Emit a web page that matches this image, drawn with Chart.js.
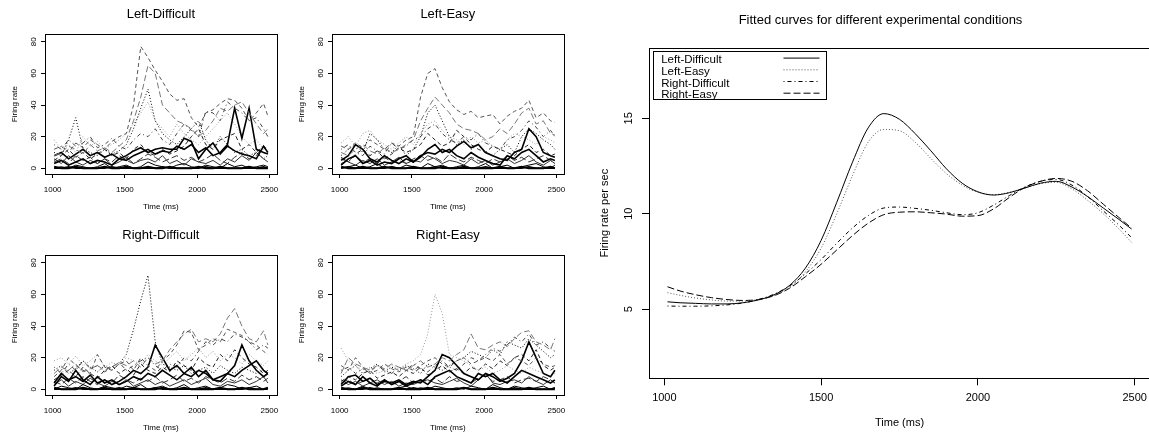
<!DOCTYPE html>
<html>
<head>
<meta charset="utf-8">
<title>Firing rate by condition</title>
<script src="https://cdn.jsdelivr.net/npm/chart.js"></script>
<style>
    html, body { margin: 0; padding: 0; background: #fff; overflow: hidden; }
    body { width: 1149px; height: 434px; position: relative; }
    canvas { position: absolute; }
</style>
</head>
<body>
<canvas id="p1" width="287" height="213" style="left:0px;top:0px"></canvas>
<canvas id="p2" width="287" height="213" style="left:287px;top:0px"></canvas>
<canvas id="p3" width="287" height="213" style="left:0px;top:221px"></canvas>
<canvas id="p4" width="287" height="213" style="left:287px;top:221px"></canvas>
<canvas id="fit" width="585" height="434" style="left:575px;top:0px"></canvas>

<script>
// time bins of the single trials (ms)
const trialTimes = [1010, 1060, 1110, 1160, 1210, 1260, 1310, 1360, 1410, 1460,
    1510, 1560, 1610, 1660, 1710, 1760, 1810, 1860, 1910, 1960,
    2010, 2060, 2110, 2160, 2210, 2260, 2310, 2360, 2410, 2460, 2490];

const smallXTicks = [1000, 1500, 2000, 2500];
const smallYTicks = [0, 20, 40, 60, 80];

// trial firing rates, one row per trial
const leftDifficult = [
    [12, 14, 10, 16, 13, 18, 15, 12, 17, 20, 22, 40, 77, 70, 62, 55, 47, 43, 44, 32, 26, 35, 37, 41, 44, 43, 38, 30, 35, 41, 33],
    [8, 10, 14, 12, 9, 15, 11, 13, 10, 14, 18, 30, 45, 65, 60, 40, 35, 30, 28, 25, 20, 24, 30, 38, 36, 40, 42, 35, 28, 22, 25],
    [10, 8, 18, 32, 12, 10, 8, 12, 9, 11, 15, 25, 38, 50, 30, 22, 18, 15, 20, 25, 30, 18, 12, 20, 15, 10, 12, 8, 10, 6, 8],
    [3, 5, 2, 4, 6, 3, 5, 4, 2, 6, 5, 8, 10, 12, 9, 11, 10, 14, 12, 15, 10, 13, 8, 10, 15, 38, 19, 38, 12, 10, 9],
    [8, 10, 6, 9, 12, 8, 10, 7, 9, 6, 8, 11, 13, 10, 12, 13, 12, 12, 19, 17, 6, 12, 16, 9, 14, 11, 9, 8, 6, 14, 10],
    [0, 1, 0, 2, 1, 0, 1, 3, 0, 1, 2, 0, 1, 4, 2, 1, 0, 2, 3, 1, 0, 2, 1, 0, 3, 1, 2, 0, 1, 2, 1],
    [1, 0, 0, 1, 0, 0, 0, 1, 0, 0, 1, 0, 0, 1, 0, 0, 1, 0, 0, 0, 1, 0, 0, 1, 0, 0, 0, 1, 0, 0, 0],
    [18, 12, 15, 10, 20, 14, 17, 12, 15, 18, 22, 28, 35, 42, 30, 25, 20, 28, 22, 18, 15, 20, 25, 30, 35, 28, 20, 15, 18, 12, 14],
    [5, 8, 12, 7, 10, 6, 9, 12, 8, 10, 6, 12, 15, 10, 8, 12, 9, 11, 14, 20, 25, 15, 12, 18, 20, 22, 12, 15, 10, 14, 12],
    [15, 12, 18, 14, 16, 20, 13, 15, 19, 14, 12, 18, 22, 20, 25, 18, 15, 22, 28, 24, 20, 36, 35, 30, 42, 38, 35, 30, 32, 25, 20],
    [4, 6, 3, 8, 5, 7, 3, 6, 4, 8, 5, 3, 6, 9, 7, 4, 6, 8, 5, 7, 4, 6, 9, 5, 3, 7, 10, 6, 8, 14, 9],
    [6, 3, 8, 4, 2, 5, 3, 6, 2, 4, 7, 3, 5, 6, 4, 8, 3, 5, 2, 6, 4, 3, 5, 2, 6, 4, 8, 5, 10, 6, 4],
    [0, 0, 1, 0, 0, 0, 0, 0, 1, 0, 0, 0, 0, 0, 0, 1, 0, 0, 0, 0, 0, 1, 0, 0, 0, 0, 0, 0, 0, 1, 0]
];

const leftEasy = [
    [14, 12, 16, 13, 18, 15, 12, 16, 14, 18, 20, 45, 60, 63, 51, 42, 37, 34, 36, 32, 33, 34, 28, 33, 36, 38, 43, 32, 35, 30, 29],
    [10, 8, 12, 15, 11, 9, 13, 10, 12, 15, 18, 30, 38, 45, 40, 35, 28, 25, 24, 22, 18, 20, 25, 22, 28, 35, 38, 28, 30, 22, 21],
    [8, 12, 15, 10, 22, 18, 12, 10, 15, 8, 12, 20, 35, 40, 30, 20, 15, 18, 12, 15, 10, 8, 12, 15, 10, 20, 25, 22, 18, 15, 12],
    [5, 8, 15, 12, 6, 4, 8, 5, 3, 6, 4, 8, 10, 9, 12, 10, 14, 17, 13, 15, 10, 8, 6, 5, 10, 12, 25, 20, 10, 8, 7],
    [2, 6, 8, 3, 5, 2, 4, 3, 6, 8, 4, 7, 12, 15, 10, 12, 8, 6, 10, 7, 5, 3, 2, 8, 6, 10, 12, 8, 4, 6, 5],
    [0, 1, 2, 0, 1, 3, 0, 1, 0, 2, 1, 0, 3, 1, 2, 0, 1, 2, 0, 1, 3, 0, 1, 2, 0, 1, 2, 3, 1, 0, 2],
    [1, 0, 0, 1, 0, 0, 1, 0, 0, 0, 1, 0, 0, 0, 1, 0, 0, 1, 0, 0, 0, 0, 1, 0, 0, 1, 0, 0, 0, 1, 0],
    [16, 20, 14, 22, 24, 18, 15, 12, 16, 20, 15, 22, 28, 30, 24, 20, 18, 15, 20, 16, 18, 14, 12, 18, 22, 20, 18, 15, 20, 18, 16],
    [6, 4, 9, 12, 8, 11, 6, 9, 13, 10, 12, 15, 22, 18, 14, 16, 24, 20, 15, 12, 10, 14, 12, 10, 8, 12, 15, 10, 12, 8, 9],
    [12, 15, 10, 8, 14, 11, 9, 16, 12, 14, 18, 20, 25, 28, 22, 18, 16, 20, 18, 22, 16, 14, 12, 18, 20, 24, 30, 26, 20, 24, 20],
    [3, 5, 8, 4, 6, 3, 7, 4, 5, 3, 6, 8, 5, 7, 4, 9, 6, 4, 7, 5, 3, 6, 4, 8, 5, 7, 4, 6, 8, 5, 3],
    [7, 4, 2, 5, 3, 6, 2, 4, 7, 3, 5, 4, 8, 6, 3, 5, 4, 2, 6, 3, 5, 2, 4, 6, 3, 5, 8, 4, 2, 5, 3],
    [0, 1, 0, 0, 0, 0, 0, 1, 0, 0, 0, 0, 0, 1, 0, 0, 0, 0, 0, 0, 1, 0, 0, 0, 0, 0, 1, 0, 0, 0, 0]
];

const rightDifficult = [
    [8, 12, 20, 15, 12, 10, 22, 14, 12, 16, 18, 12, 20, 15, 12, 18, 22, 28, 37, 36, 25, 28, 32, 30, 38, 36, 34, 30, 28, 24, 22],
    [10, 14, 12, 16, 11, 13, 15, 12, 14, 17, 15, 18, 14, 20, 16, 18, 25, 30, 35, 38, 30, 32, 30, 35, 45, 51, 40, 32, 30, 37, 28],
    [12, 15, 10, 13, 18, 14, 11, 15, 12, 16, 22, 38, 56, 72, 30, 16, 14, 12, 15, 10, 12, 14, 10, 15, 12, 10, 14, 12, 10, 12, 9],
    [4, 10, 6, 8, 5, 9, 4, 6, 3, 5, 8, 12, 10, 14, 28, 20, 12, 15, 10, 8, 12, 10, 6, 8, 10, 15, 28, 18, 12, 8, 10],
    [2, 8, 5, 12, 6, 3, 8, 4, 6, 3, 5, 8, 6, 10, 8, 12, 9, 6, 10, 14, 8, 12, 6, 5, 10, 8, 12, 15, 18, 12, 10],
    [0, 2, 1, 0, 3, 1, 0, 2, 1, 0, 2, 1, 3, 0, 1, 2, 0, 1, 3, 0, 1, 2, 0, 1, 3, 2, 0, 1, 2, 0, 1],
    [1, 0, 0, 0, 1, 0, 0, 1, 0, 0, 0, 1, 0, 0, 0, 1, 0, 0, 1, 0, 0, 0, 0, 1, 0, 0, 1, 0, 0, 0, 1],
    [18, 20, 16, 21, 15, 18, 22, 14, 17, 15, 20, 18, 16, 22, 18, 15, 20, 24, 18, 22, 26, 20, 24, 18, 22, 20, 16, 22, 18, 15, 18],
    [6, 9, 12, 8, 14, 10, 7, 12, 15, 10, 13, 9, 16, 12, 10, 14, 11, 18, 15, 12, 20, 16, 14, 22, 18, 25, 20, 16, 14, 10, 12],
    [14, 10, 16, 12, 18, 13, 15, 11, 14, 17, 12, 15, 18, 20, 15, 12, 16, 14, 20, 18, 24, 30, 28, 32, 30, 35, 33, 30, 25, 28, 26],
    [5, 3, 7, 4, 8, 5, 3, 6, 4, 9, 6, 4, 7, 5, 8, 4, 6, 9, 5, 7, 4, 8, 6, 4, 7, 5, 9, 6, 8, 5, 7],
    [3, 6, 2, 5, 3, 7, 4, 2, 5, 3, 6, 2, 4, 6, 3, 5, 2, 4, 6, 3, 5, 7, 3, 2, 5, 4, 6, 3, 5, 8, 4],
    [0, 0, 0, 1, 0, 0, 0, 0, 0, 1, 0, 0, 0, 0, 1, 0, 0, 0, 0, 0, 0, 1, 0, 0, 0, 0, 0, 1, 0, 0, 0]
];

const rightEasy = [
    [15, 12, 20, 14, 10, 12, 16, 13, 11, 14, 12, 15, 18, 20, 16, 14, 18, 20, 16, 18, 20, 18, 22, 16, 20, 18, 15, 20, 16, 14, 15],
    [10, 20, 16, 14, 12, 15, 13, 16, 14, 12, 15, 18, 14, 16, 20, 18, 22, 25, 35, 26, 25, 28, 30, 27, 32, 36, 37, 30, 28, 25, 32],
    [8, 12, 15, 10, 13, 16, 11, 14, 12, 15, 13, 10, 16, 14, 12, 15, 18, 20, 24, 22, 20, 25, 22, 30, 28, 26, 32, 28, 24, 20, 22],
    [3, 8, 9, 5, 7, 3, 5, 4, 6, 3, 5, 4, 8, 12, 22, 20, 15, 10, 8, 6, 10, 8, 5, 7, 10, 18, 30, 20, 10, 8, 12],
    [2, 5, 3, 8, 4, 2, 6, 3, 5, 2, 4, 6, 3, 8, 10, 12, 8, 6, 4, 10, 8, 10, 6, 4, 8, 12, 10, 8, 6, 4, 6],
    [0, 1, 0, 2, 0, 1, 0, 0, 1, 2, 0, 1, 0, 2, 1, 0, 1, 0, 2, 1, 0, 3, 1, 0, 2, 1, 0, 1, 2, 0, 1],
    [1, 0, 0, 1, 0, 0, 0, 0, 1, 0, 0, 0, 1, 0, 0, 0, 0, 1, 0, 0, 0, 1, 0, 0, 0, 0, 1, 0, 0, 0, 0],
    [26, 18, 15, 12, 14, 10, 12, 15, 13, 16, 18, 22, 35, 60, 48, 22, 20, 18, 15, 12, 14, 10, 12, 15, 12, 10, 14, 12, 10, 8, 10],
    [5, 8, 6, 10, 12, 7, 9, 11, 8, 12, 10, 14, 9, 12, 15, 11, 13, 10, 14, 12, 16, 13, 18, 15, 20, 22, 18, 25, 15, 12, 14],
    [12, 14, 10, 13, 11, 15, 12, 10, 14, 12, 16, 13, 11, 15, 18, 14, 12, 16, 20, 18, 22, 26, 24, 28, 33, 30, 35, 28, 30, 26, 24],
    [4, 6, 3, 5, 7, 4, 6, 3, 5, 8, 4, 6, 5, 7, 4, 8, 5, 6, 4, 7, 9, 5, 6, 8, 4, 6, 7, 5, 8, 6, 4],
    [6, 3, 5, 2, 4, 6, 3, 5, 2, 4, 3, 5, 6, 4, 3, 5, 7, 4, 2, 6, 10, 4, 3, 5, 6, 4, 8, 5, 3, 6, 4],
    [0, 0, 0, 0, 1, 0, 0, 0, 0, 0, 1, 0, 0, 0, 0, 0, 0, 1, 0, 0, 0, 0, 0, 0, 1, 0, 0, 0, 0, 0, 1]
];

// fitted curves
const fitTimes = [1010, 1050, 1100, 1150, 1200, 1250, 1300, 1350, 1400, 1450,
    1500, 1550, 1600, 1650, 1700, 1750, 1800, 1850, 1900, 1950,
    2000, 2050, 2100, 2150, 2200, 2250, 2300, 2350, 2400, 2450, 2490];
const fitLeftDifficult = [5.38, 5.33, 5.30, 5.27, 5.27, 5.33, 5.48, 5.75, 6.25, 7.15,
    8.6, 10.6, 12.7, 14.5, 15.25, 14.95, 14.2, 13.3, 12.35, 11.6,
    11.15, 10.98, 11.1, 11.35, 11.6, 11.7, 11.4, 10.9, 10.3, 9.7, 9.2];
const fitLeftEasy = [5.86, 5.72, 5.58, 5.48, 5.42, 5.42, 5.5, 5.72, 6.15, 6.95,
    8.2, 10.0, 12.0, 13.75, 14.42, 14.35, 13.75, 12.9, 12.1, 11.5,
    11.12, 11.0, 11.12, 11.35, 11.58, 11.65, 11.3, 10.7, 10.0, 9.2, 8.5];
const fitRightDifficult = [5.16, 5.15, 5.15, 5.17, 5.22, 5.32, 5.5, 5.78, 6.22, 6.85,
    7.6, 8.45, 9.25, 9.9, 10.3, 10.35, 10.28, 10.18, 10.05, 9.95,
    10.05, 10.45, 10.95, 11.4, 11.7, 11.8, 11.5, 10.9, 10.15, 9.4, 8.75];
const fitRightEasy = [6.17, 5.95, 5.75, 5.6, 5.5, 5.45, 5.5, 5.7, 6.1, 6.7,
    7.35, 8.1, 8.85, 9.5, 9.95, 10.08, 10.1, 10.05, 9.98, 9.87,
    9.9, 10.25, 10.85, 11.38, 11.7, 11.85, 11.7, 11.2, 10.5, 9.8, 9.25];
const fitXTicks = [1000, 1500, 2000, 2500];
const fitYTicks = [5, 10, 15];

// line looks of the trial traces (cycled like matplot)
const traceStyles = [
    { color: '#555', width: 1, dash: [4, 3] },
    { color: '#777', width: 1, dash: [6, 3] },
    { color: '#000', width: 1, dash: [1, 2] },
    { color: '#000', width: 1.6, dash: [] },
    { color: '#000', width: 1.6, dash: [] },
    { color: '#000', width: 1, dash: [] },
    { color: '#000', width: 2, dash: [] },
    { color: '#999', width: 1, dash: [1, 2] },
    { color: '#222', width: 1, dash: [4, 3] },
    { color: '#444', width: 1, dash: [1, 3, 4, 3] },
    { color: '#333', width: 1, dash: [7, 3] },
    { color: '#333', width: 1, dash: [] },
    { color: '#000', width: 1.5, dash: [] }
];

Chart.defaults.font.family = '"Liberation Sans", Arial, Helvetica, sans-serif';
Chart.defaults.color = '#000';

// box round the plot region
const frame = {
    id: 'frame',
    afterDraw(chart) {
        const { ctx, chartArea: a } = chart;
        ctx.save();
        ctx.strokeStyle = '#000';
        ctx.lineWidth = 1;
        ctx.strokeRect(Math.round(a.left) + 0.5, Math.round(a.top) + 0.5,
            Math.round(a.right - a.left), Math.round(a.bottom - a.top));
        ctx.restore();
    }
};

function tickAxis(ticks, min, max, size, tickLen, pad, fitSize, title, titlePad, vertical) {
    return {
        type: 'linear',
        min: min,
        max: max,
        afterBuildTicks: s => { s.ticks = ticks.map(v => ({ value: v })); },
        afterFit: s => { if (vertical) s.width = fitSize; else s.height = fitSize; },
        grid: { drawOnChartArea: false, tickLength: tickLen, color: '#000' },
        border: { display: false },
        ticks: {
            font: { size: size },
            color: '#000',
            padding: pad,
            autoSkip: false,
            minRotation: vertical ? 90 : 0,
            maxRotation: vertical ? 90 : 0,
            crossAlign: vertical ? 'center' : 'near',
            callback: v => String(v)
        },
        title: { display: true, text: title, color: '#000', font: { size: size }, padding: titlePad }
    };
}

function smallPanel(id, title, trials) {
    new Chart(document.getElementById(id), {
        type: 'line',
        data: {
            datasets: trials.map((vals, k) => ({
                data: vals.map((v, i) => ({ x: trialTimes[i], y: v })),
                borderColor: traceStyles[k].color,
                borderWidth: traceStyles[k].width,
                borderDash: traceStyles[k].dash,
                pointRadius: 0,
                tension: 0,
                fill: false
            }))
        },
        options: {
            responsive: false,
            animation: false,
            events: [],
            layout: { padding: { left: 0, right: 10.3, top: 0, bottom: 0 } },
            plugins: {
                legend: { display: false },
                tooltip: { enabled: false },
                title: {
                    display: true, text: title, fullSize: false, color: '#000',
                    font: { size: 13, weight: 'normal' },
                    padding: { top: 6.2, bottom: 12.5 }
                }
            },
            scales: {
                x: tickAxis(smallXTicks, 947, 2551, 8, 4, 7.2, 39, 'Time (ms)', { top: 0, bottom: 1.5 }, false),
                y: tickAxis(smallYTicks, -3.6, 84.7, 8, 4, 3.2, 45, 'Firing rate', { top: 10.2, bottom: 0 }, true)
            }
        },
        plugins: [frame]
    });
}

smallPanel('p1', 'Left-Difficult', leftDifficult);
smallPanel('p2', 'Left-Easy', leftEasy);
smallPanel('p3', 'Right-Difficult', rightDifficult);
smallPanel('p4', 'Right-Easy', rightEasy);

// R style legend: labels on the left, line samples on the right
const fitLegend = {
    id: 'fitLegend',
    afterDraw(chart) {
        const { ctx, chartArea: a } = chart;
        const x0 = Math.round(a.left) + 4.5, y0 = Math.round(a.top) + 3.5;
        ctx.save();
        ctx.font = '11.5px "Liberation Sans", Arial, sans-serif';
        ctx.textBaseline = 'middle';
        ctx.fillStyle = '#000';
        chart.data.datasets.forEach((ds, i) => {
            const y = y0 + 8.6 + i * 11.7;
            ctx.fillText(ds.label, x0 + 7.7, y);
            ctx.strokeStyle = ds.borderColor;
            ctx.lineWidth = ds.borderWidth;
            ctx.setLineDash(ds.borderDash || []);
            ctx.beginPath();
            ctx.moveTo(x0 + 130, y - 2);
            ctx.lineTo(x0 + 166, y - 2);
            ctx.stroke();
        });
        ctx.setLineDash([]);
        ctx.strokeStyle = '#000';
        ctx.lineWidth = 1;
        ctx.strokeRect(x0, y0, 173, 48);
        ctx.restore();
    }
};

// the main title sits a little left of the plot centre in the original
const titleShift = {
    id: 'titleShift',
    afterLayout(chart) {
        const t = chart.titleBlock;
        if (t) { t.left -= 19; t.right -= 19; }
    }
};

function fitSet(label, values, color, dash) {
    return {
        label: label,
        data: values.map((v, i) => ({ x: fitTimes[i], y: v })),
        borderColor: color,
        borderWidth: 1,
        borderDash: dash,
        pointRadius: 0,
        cubicInterpolationMode: 'monotone',
        fill: false
    };
}

new Chart(document.getElementById('fit'), {
    type: 'line',
    data: {
        datasets: [
            fitSet('Left-Difficult', fitLeftDifficult, '#000', []),
            fitSet('Left-Easy', fitLeftEasy, '#555', [1, 2]),
            fitSet('Right-Difficult', fitRightDifficult, '#000', [1, 3, 4, 3]),
            fitSet('Right-Easy', fitRightEasy, '#000', [7, 3])
        ]
    },
    options: {
        responsive: false,
        animation: false,
        events: [],
        layout: { padding: { left: 0, right: 10, top: 0, bottom: 0 } },
        plugins: {
            legend: { display: false },
            tooltip: { enabled: false },
            title: {
                display: true,
                text: 'Fitted curves for different experimental conditions',
                fullSize: false, color: '#000',
                font: { size: 13, weight: 'normal' },
                padding: { top: 12.2, bottom: 20.2 }
            }
        },
        scales: {
            x: tickAxis(fitXTicks, 951, 2549, 11, 7, 6.1, 55.7, 'Time (ms)', { top: 0, bottom: 4.4 }, false),
            y: tickAxis(fitYTicks, 1.37, 18.69, 11, 7, 6.6, 74, 'Firing rate per sec', { top: 23.4, bottom: 0 }, true)
        }
    },
    plugins: [frame, fitLegend, titleShift]
});
</script>
</body>
</html>
